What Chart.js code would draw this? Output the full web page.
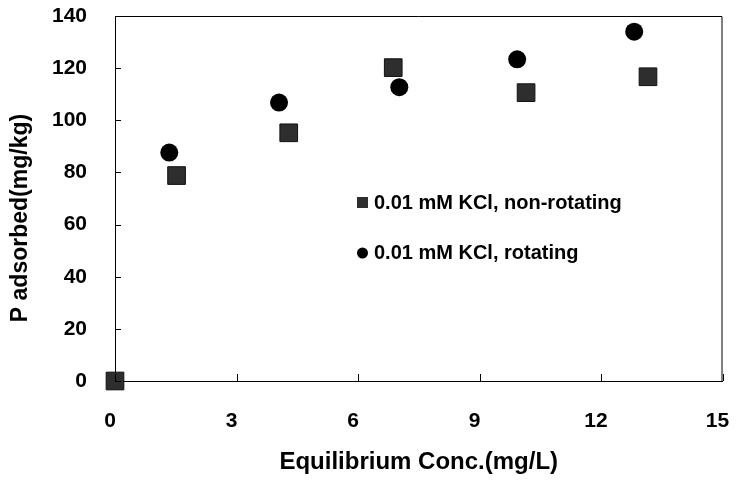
<!DOCTYPE html>
<html>
<head>
<meta charset="utf-8">
<script src="https://cdn.jsdelivr.net/npm/chart.js@4.4.1/dist/chart.umd.min.js"></script>
<style>
    html, body { margin: 0; padding: 0; background: #fff; }
    #wrap { width: 736px; height: 483px; }
</style>
</head>
<body>
<div id="wrap"><canvas id="adsChart" width="736" height="483"></canvas></div>
<script>
// P adsorption data
const concNonRot = [0.0, 1.52, 4.29, 6.87, 10.15, 13.16];
const adsNonRot = [0, 78.8, 95.2, 120.2, 110.6, 116.7];
const concRot = [1.34, 4.05, 7.02, 9.93, 12.82];
const adsRot = [87.6, 106.8, 112.7, 123.4, 134.0];
const xTicks = [0, 3, 6, 9, 12, 15];
const yTicks = [0, 20, 40, 60, 80, 100, 120, 140];
const seriesLabels = ['0.01 mM KCl, non-rotating', '0.01 mM KCl, rotating'];

(function() {
    'use strict';

    const FONT = 'Arial, "Liberation Sans", sans-serif';
    const squareColor = '#2e2e2e';
    const circleColor = '#000';

    function toPoints(xs, ys) {
        return xs.map(function(x, i) { return { x: x, y: ys[i] }; });
    }

    // box, inward ticks, y title and inset legend
    const framePlugin = {
        id: 'frame',
        afterDatasetsDraw: function(chart) {
            const ctx = chart.ctx;
            const a = chart.chartArea;
            const xs = chart.scales.x, ys = chart.scales.y;
            ctx.save();
            ctx.strokeStyle = '#000';
            ctx.lineWidth = 1;
            ctx.beginPath();
            ctx.moveTo(a.left + 0.5, a.top + 0.5);
            ctx.lineTo(a.right - 0.5, a.top + 0.5);
            ctx.lineTo(a.right - 0.5, a.bottom);
            ctx.stroke();
            ctx.beginPath();
            xTicks.forEach(function(v) {
                const px = Math.round(xs.getPixelForValue(v)) + 0.5;
                ctx.moveTo(px, a.bottom);
                ctx.lineTo(px, a.bottom - 7);
            });
            yTicks.forEach(function(v) {
                const py = Math.round(ys.getPixelForValue(v)) + 0.5;
                ctx.moveTo(a.left, py);
                ctx.lineTo(a.left + 6, py);
            });
            ctx.stroke();

            // y axis title
            ctx.fillStyle = '#000';
            ctx.font = 'bold 23px ' + FONT;
            ctx.textAlign = 'center';
            ctx.textBaseline = 'middle';
            ctx.translate(21, 218);
            ctx.rotate(-Math.PI / 2);
            ctx.fillText('P adsorbed(mg/kg)', 0, 0);
            ctx.restore();

            // legend
            ctx.save();
            ctx.font = 'bold 20px ' + FONT;
            ctx.textAlign = 'left';
            ctx.textBaseline = 'middle';
            ctx.fillStyle = squareColor;
            ctx.fillRect(357, 197, 11, 11);
            ctx.fillStyle = circleColor;
            ctx.beginPath();
            ctx.arc(362.5, 253, 5.5, 0, Math.PI * 2);
            ctx.fill();
            ctx.fillText(seriesLabels[0], 374, 203);
            ctx.fillText(seriesLabels[1], 374, 253);
            ctx.restore();
        }
    };

    const ctx = document.getElementById('adsChart');
    new Chart(ctx, {
        type: 'scatter',
        data: {
            datasets: [
                {
                    label: seriesLabels[1],
                    data: toPoints(concRot, adsRot),
                    pointStyle: 'circle',
                    pointRadius: 9,
                    backgroundColor: circleColor,
                    borderColor: circleColor,
                    borderWidth: 0,
                    clip: false
                },
                {
                    label: seriesLabels[0],
                    data: toPoints(concNonRot, adsNonRot),
                    pointStyle: 'rect',
                    pointRadius: 12.5,
                    backgroundColor: squareColor,
                    borderColor: '#111',
                    borderWidth: 1,
                    clip: false
                }
            ]
        },
        options: {
            responsive: false,
            animation: false,
            events: [],
            layout: { padding: { top: 16, right: 12, left: 0, bottom: 0 } },
            plugins: {
                legend: { display: false },
                tooltip: { enabled: false }
            },
            scales: {
                x: {
                    type: 'linear',
                    min: 0,
                    max: 15,
                    afterFit: function(scale) {
                        scale.height = 102;
                        scale.paddingLeft = 0;
                        scale.paddingRight = 0;
                    },
                    afterBuildTicks: function(scale) {
                        scale.ticks = xTicks.map(function(v) { return { value: v }; });
                    },
                    grid: { display: false, drawTicks: false },
                    border: { display: true, color: '#000', width: 1 },
                    ticks: {
                        padding: 28,
                        labelOffset: -5,
                        color: '#000',
                        font: { family: FONT, size: 21, weight: 'bold' }
                    },
                    title: {
                        display: true,
                        text: 'Equilibrium Conc.(mg/L)',
                        color: '#000',
                        font: { family: FONT, size: 24, weight: 'bold' },
                        padding: { top: 0, bottom: 6 }
                    }
                },
                y: {
                    type: 'linear',
                    min: 0,
                    max: 140,
                    afterFit: function(scale) {
                        scale.width = 115;
                        scale.paddingTop = 0;
                        scale.paddingBottom = 0;
                    },
                    afterBuildTicks: function(scale) {
                        scale.ticks = yTicks.map(function(v) { return { value: v }; });
                    },
                    grid: { display: false, drawTicks: false },
                    border: { display: true, color: '#000', width: 1 },
                    ticks: {
                        padding: 28,
                        color: '#000',
                        font: { family: FONT, size: 21, weight: 'bold' }
                    }
                }
            }
        },
        plugins: [framePlugin]
    });
})();
</script>
</body>
</html>
